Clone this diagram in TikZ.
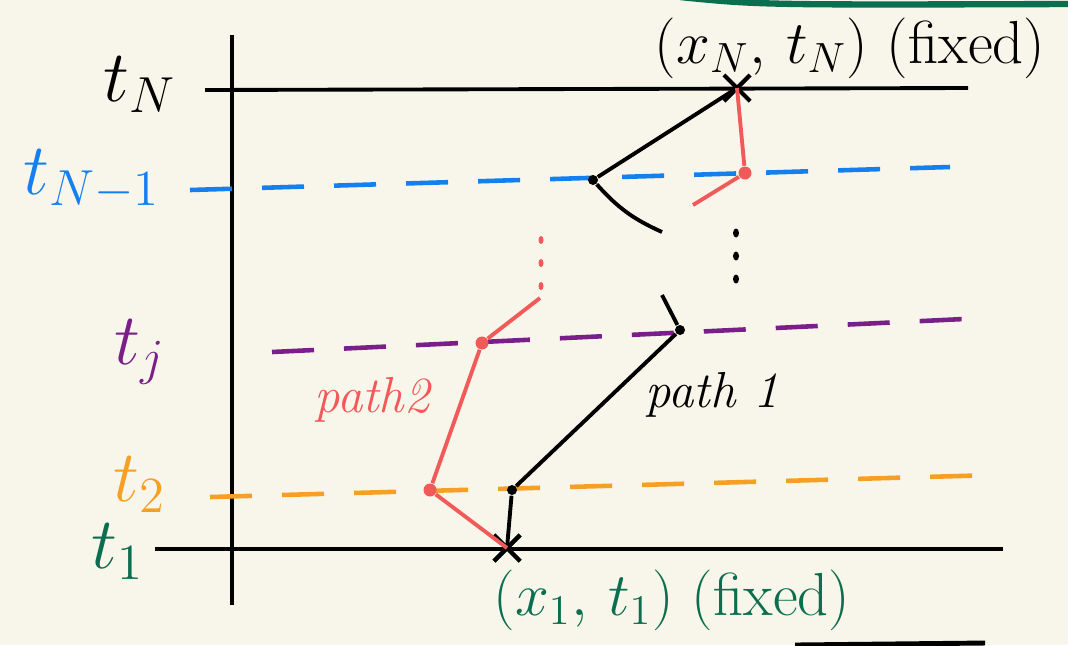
\documentclass[tikz,border=0pt]{standalone}
\usepackage{amsmath}
\usetikzlibrary{positioning,shapes.misc}

\definecolor{paper}{HTML}{F8F6EA}
\definecolor{tblue}{HTML}{1480F0}
\definecolor{tpurple}{HTML}{7A1E8A}
\definecolor{torange}{HTML}{F5A024}
\definecolor{tgreen}{HTML}{0B6E4F}
\definecolor{tred}{HTML}{F25A5A}

\begin{document}
\begin{tikzpicture}[
  x=0.01cm, y=-0.01cm,
  lbl/.style={font=\huge},
  small/.style={font=\LARGE},
  dot/.style={circle, fill, inner sep=0pt, minimum size=0.13cm},
  xmark/.style={cross out, draw, very thick, inner sep=0pt, minimum size=0.22cm},
  ln/.style={line width=1.1pt},
  dsh/.style={line width=1.3pt, dash pattern=on 0.42cm off 0.3cm}
]
  \useasboundingbox[fill=paper] (0,0) rectangle (1068,645);

  % axes and the fixed time lines
  \draw[ln] (232,35) -- (232,605);
  \draw[ln] (205,90) -- (968,88);
  \draw[ln] (155,549) -- (1003,549);

  % intermediate time slices
  \draw[dsh, tblue] (190,190) -- (950,167);
  \draw[dsh, tpurple] (272,352) -- (985,318);
  \draw[dsh, torange] (210,497) -- (995,475);

  % time labels
  \node[lbl] (tN) at (140,85) {$t_N$};
  \node[lbl, tblue] (tNm) at (92,180) {$t_{N-1}$};
  \node[lbl, tpurple] (tj) at (140,352) {$t_j$};
  \node[lbl, torange] (t2) at (140,485) {$t_2$};
  \node[lbl, tgreen] (t1) at (118,552) {$t_1$};

  % end points
  \node[xmark] (xN) at (737,88) {};
  \node[xmark, tgreen] (xone) at (507,548) {};
  \draw[very thick] (xone.north west) -- (xone.south east)
    (xone.north east) -- (xone.south west);
  \node[small] (lblN) at (850,48) {$(x_N,\,t_N)$ (fixed)};
  \node[small, tgreen] (lblone) at (672,600) {$(x_1,\,t_1)$ (fixed)};

  % path 1
  \node[dot, minimum size=0.1cm] (a2) at (512,490) {};
  \node[dot, minimum size=0.1cm] (aj) at (680,330) {};
  \node[dot, minimum size=0.1cm] (aNm) at (593,180) {};
  \coordinate (aup) at (662,295);
  \coordinate (adown) at (662,232);
  \draw[ln] (xone.center) -- (a2) -- (aj) -- (aup);
  \draw[ln] (aNm) to[bend right=12] (adown);
  \draw[ln] (aNm) -- (xN.center);
  \foreach \y in {233,256,279}
    \fill (736,\y) ellipse (0.03cm and 0.045cm);
  \node[font=\Large] (lblone1) at (712,395) {\itshape path 1};

  % path 2
  \node[dot, tred] (b2) at (430,490) {};
  \node[dot, tred] (bj) at (482,343) {};
  \node[dot, tred] (bNm) at (745,173) {};
  \coordinate (bup) at (540,298);
  \coordinate (bdown) at (693,205);
  \draw[ln, tred] (xone.center) -- (b2) -- (bj) -- (bup);
  \draw[ln, tred] (bdown) -- (bNm) -- (xN.center);
  \foreach \y in {240,263,286}
    \fill[tred] (541,\y) ellipse (0.025cm and 0.04cm);
  \node[font=\Large, tred] (lbltwo) at (372,400) {\itshape path2};

  % margin strokes
  \draw[tgreen, line width=1.8pt] (680,-3) .. controls (760,5) .. (1075,4);
  \draw[line width=1.4pt] (795,645) -- (985,643);
\end{tikzpicture}
\end{document}
